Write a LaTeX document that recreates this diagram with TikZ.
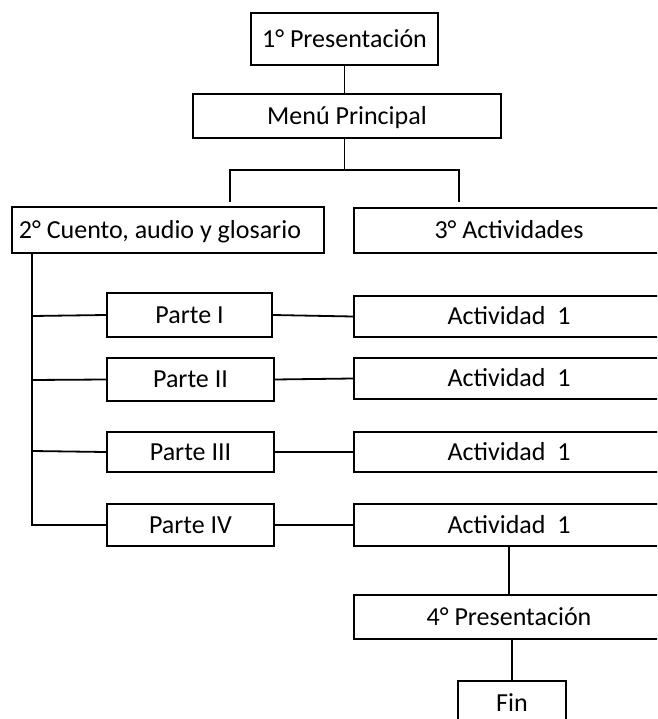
\documentclass[tikz,border=0pt]{standalone}
\usepackage{fontspec}
\setmainfont{Carlito}
\begin{document}
\begin{tikzpicture}[x=1pt,y=-1pt,
  box/.style={draw=black,line width=1.8pt,rectangle,inner sep=0pt,
    text height=16.6pt,text depth=0pt,
    font=\fontsize{26}{30}\selectfont},
  link/.style={draw=black,line width=1.8pt}]
\useasboundingbox (0,0) rectangle (657,719);
\clip (0,0) rectangle (657,719);
\fill[white] (0,0) rectangle (657,719);
% boxes
\node[box,minimum width=187pt,minimum height=52pt] (p1) at (344.5,39) {1° Presentación};
\node[box,minimum width=308pt,minimum height=44pt] (menu) at (347,116) {Menú Principal};
\node[box,minimum width=312pt,minimum height=46pt] (cuento) at (168,230) {\hspace*{-16pt}2° Cuento, audio y glosario};
\node[box,minimum width=310pt,minimum height=45pt] (act) at (509,230.5) {3° Actividades};
\node[box,minimum width=165pt,minimum height=44pt] (pa1) at (189.5,315) {Parte I};
\node[box,minimum width=167pt,minimum height=43pt] (pa2) at (190.5,379.5) {Parte II};
\node[box,minimum width=167pt,minimum height=40pt] (pa3) at (190.5,452) {Parte III};
\node[box,minimum width=167pt,minimum height=42pt] (pa4) at (190.5,525) {Parte IV};
\node[box,minimum width=310pt,minimum height=41pt] (a1) at (509,316.5) {Actividad\ \ 1};
\node[box,minimum width=310pt,minimum height=41pt] (a2) at (509,378.5) {Actividad\ \ 1};
\node[box,minimum width=310pt,minimum height=40pt] (a3) at (509,452) {Actividad\ \ 1};
\node[box,minimum width=310pt,minimum height=42pt] (a4) at (509,525) {Actividad\ \ 1};
\node[box,minimum width=310pt,minimum height=44pt] (p4) at (509,617) {4° Presentación};
\node[box,minimum width=108pt,minimum height=44pt] (fin) at (512,703) {Fin};
% coordinates
\coordinate (mj) at (344.5,170);
\coordinate (jl) at (230,170);
\coordinate (jr) at (459,170);
\coordinate (el) at (230,202);
\coordinate (er) at (459,202);
\coordinate (tt) at (32,253);
\coordinate (t1) at (32,316);
\coordinate (t2) at (32,380);
\coordinate (t3) at (32,451);
\coordinate (t4) at (32,525);
% connectors
\draw[link] (p1.south) -- (p1.south |- menu.north);
\draw[link] (mj |- menu.south) -- (mj);
\draw[link] (el) -- (jl) -- (jr) -- (er);
\draw[link] (tt) -- (t4) -- (pa4.west);
\draw[link] (t1) -- (pa1.west);
\draw[link] (t2) -- (pa2.west);
\draw[link] (t3) -- (pa3.west);
\draw[link] (pa1.east) -- (a1.west);
\draw[link] (pa2.east) -- (a2.west);
\draw[link] (pa3.east) -- (a3.west);
\draw[link] (pa4.east) -- (a4.west);
\draw[link] (a4.south) -- (p4.north);
\draw[link] (fin.north |- p4.south) -- (fin.north);
\end{tikzpicture}
\end{document}
